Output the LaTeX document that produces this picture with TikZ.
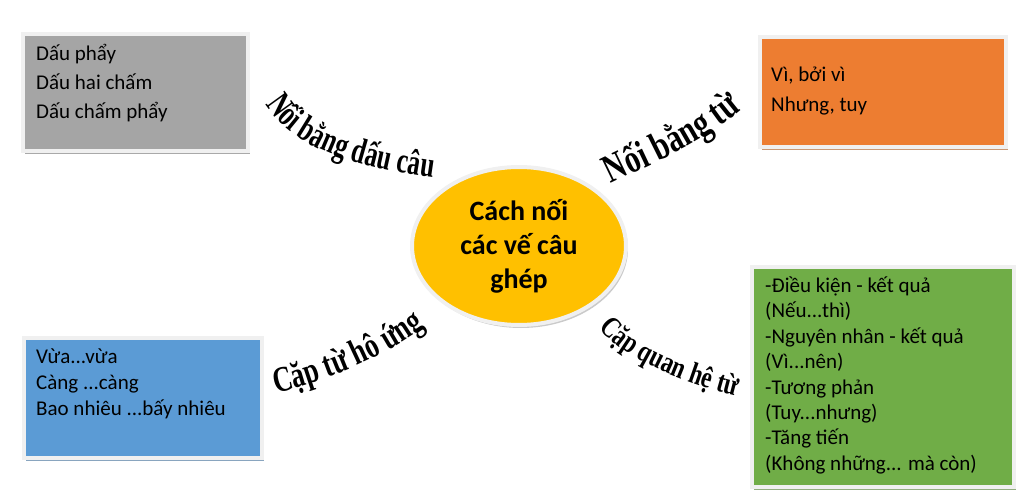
\documentclass[tikz,border=0pt]{standalone}
\usepackage{fontspec}
\setmainfont{Carlito}
\newfontfamily\wafontA[FakeStretch=0.70]{Liberation Serif}
\newfontfamily\wafontB[FakeStretch=0.75]{Liberation Serif}
\newfontfamily\wafontC[FakeStretch=0.74]{Liberation Serif}
\newfontfamily\wafontD[FakeStretch=0.78]{Liberation Serif}
\usetikzlibrary{shapes.geometric,shadows,decorations.text}
\definecolor{cgray}{HTML}{A5A5A5}
\definecolor{corange}{HTML}{ED7D31}
\definecolor{cblue}{HTML}{5B9BD5}
\definecolor{cgreen}{HTML}{70AD47}
\definecolor{cyellow}{HTML}{FFC000}
\definecolor{framec}{HTML}{F0F0F0}
\newcommand\wsize[1]{\bfseries\fontsize{#1}{#1}\selectfont}
\begin{document}
\begin{tikzpicture}[x=1pt,y=-1pt,
  box/.style={rectangle, draw=framec, line width=4pt, fill=#1, anchor=north west, inner sep=0pt,
    drop shadow={shadow xshift=1.5pt, shadow yshift=-3pt, fill=#1!55!gray, opacity=0.8}},
  itemtext/.style={anchor=west, inner sep=0pt, text height=14pt, text depth=5pt,
    font=\fontsize{21}{24}\selectfont},
  arclabel/.style={decorate, decoration={text along path, text align=left, text={#1}}}
]
\useasboundingbox (0,0) rectangle (1018,500);

% boxes
\node[box=cgray, minimum width=225pt, minimum height=117pt] (gbox) at (21,32) {};
\node[box=corange, minimum width=246pt, minimum height=110pt] (obox) at (758,35) {};
\node[box=cblue, minimum width=238pt, minimum height=120pt] (bbox) at (22,336) {};
\node[box=cgreen, minimum width=262pt, minimum height=220pt] (ebox) at (750,265) {};

% box texts
\node[itemtext] (gt1) at (36,56) {Dấu phẩy};
\node[itemtext] (gt2) at (36,85) {Dấu hai chấm};
\node[itemtext] (gt3) at (36,114) {Dấu chấm phẩy};

\node[itemtext] (ot1) at (771,77) {Vì, bởi vì};
\node[itemtext] (ot2) at (771,107) {Nhưng, tuy};

\node[itemtext] (bt1) at (36,359) {Vừa...vừa};
\node[itemtext] (bt2) at (36,385) {Càng ...càng};
\node[itemtext] (bt3) at (36,411) {Bao nhiêu ...bấy nhiêu};

\node[itemtext] (et1) at (765,288) {-Điều kiện - kết quả};
\node[itemtext] (et2) at (765,313.4) {(Nếu...thì)};
\node[itemtext] (et3) at (765,338.8) {-Nguyên nhân - kết quả};
\node[itemtext] (et4) at (765,364.2) {(Vì...nên)};
\node[itemtext] (et5) at (765,389.6) {-Tương phản};
\node[itemtext] (et6) at (765,415) {(Tuy...nhưng)};
\node[itemtext] (et7) at (765,440.4) {-Tăng tiến};
\node[itemtext] (et8) at (765,465.8) {(Không những... mà còn)};

% centre
\node[ellipse, fill=cyellow, draw=framec, line width=4pt, minimum width=214pt, minimum height=158pt,
  inner sep=0pt, align=center, font=\bfseries\fontsize{28}{34}\selectfont,
  drop shadow={shadow xshift=2pt, shadow yshift=-3pt, fill=gray!70, opacity=0.6}]
  (c) at (519,246) {Cách nối\\các vế câu\\ghép};

% curved labels
\path[arclabel={|\wafontA\wsize{36}|Nối bằng dấu câu}] (266,104) .. controls (290,146) and (350,168) .. (450,180);
\path[arclabel={|\wafontB\wsize{40}|Nối bằng từ}] (611,184) .. controls (652,163) and (712,142) .. (760,92);
\path[arclabel={|\wafontC\wsize{36}|Cặp từ hô ứng}] (276,393) .. controls (322,382) and (390,358) .. (440,314);
\path[arclabel={|\wafontD\wsize{30}|Cặp quan hệ từ}] (599,328) .. controls (622,356) and (680,384) .. (750,399);
\end{tikzpicture}
\end{document}
